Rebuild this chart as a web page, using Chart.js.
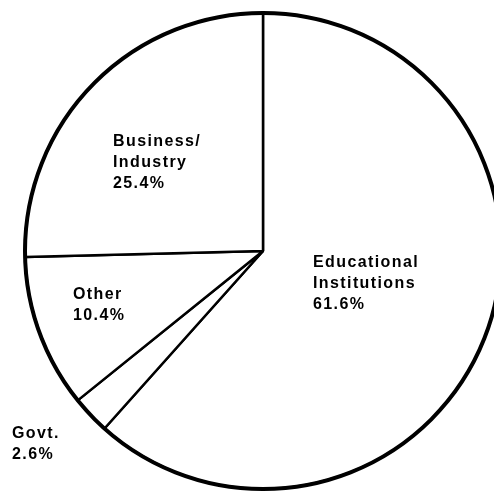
<!DOCTYPE html>
<html>
<head>
<meta charset="utf-8">
<script src="https://cdn.jsdelivr.net/npm/chart.js@4/dist/chart.umd.min.js"></script>
<style>
  html, body { margin: 0; padding: 0; background: #fff; overflow: hidden; }
  #wrap { position: relative; width: 526px; height: 492px; }
</style>
</head>
<body>
<div id="wrap"><canvas id="pie" width="526" height="492"></canvas></div>
<script>
// Sectors, clockwise from 12 o'clock
const categories = ['Educational Institutions', 'Govt.', 'Other', 'Business/Industry'];
const labelLines = [['Educational', 'Institutions'], ['Govt.'], ['Other'], ['Business/', 'Industry']];
const shares = [61.6, 2.6, 10.4, 25.4];

// Where each sector's caption sits, as an offset (px) from the pie centre
const captionOffsets = [
  { dx: 50, dy: 16 },
  { dx: -251, dy: 187 },
  { dx: -190, dy: 48 },
  { dx: -150, dy: -105 }
];

const outlineAndCaptions = {
  id: 'outlineAndCaptions',
  afterDatasetsDraw(chart, args, opts) {
    const ctx = chart.ctx;
    const meta = chart.getDatasetMeta(0);
    const arc0 = meta.data[0];
    const cx = arc0.x, cy = arc0.y, r = arc0.outerRadius;

    // heavier rim around the whole pie
    ctx.save();
    ctx.beginPath();
    ctx.arc(cx, cy, r, 0, Math.PI * 2);
    ctx.lineWidth = opts.rimWidth;
    ctx.strokeStyle = '#000';
    ctx.stroke();
    ctx.restore();

    // sector captions: name lines followed by the share
    ctx.save();
    ctx.fillStyle = '#000';
    ctx.font = opts.font;
    ctx.letterSpacing = opts.letterSpacing;
    ctx.textAlign = 'left';
    ctx.textBaseline = 'alphabetic';
    chart.data.datasets[0].data.forEach((v, i) => {
      const off = captionOffsets[i];
      const lines = labelLines[i].concat([v.toFixed(1) + '%']);
      lines.forEach((t, k) => {
        ctx.fillText(t, cx + off.dx, cy + off.dy + k * opts.lineHeight);
      });
    });
    ctx.restore();
  }
};

new Chart(document.getElementById('pie'), {
  type: 'pie',
  data: {
    labels: categories,
    datasets: [{
      data: shares,
      backgroundColor: '#ffffff',
      borderColor: '#000000',
      borderWidth: 2.5
    }]
  },
  options: {
    responsive: false,
    animation: false,
    radius: 238,
    layout: { padding: { top: 10, bottom: 0, left: 0, right: 0 } },
    plugins: {
      legend: { display: false },
      tooltip: { enabled: false },
      outlineAndCaptions: {
        rimWidth: 4,
        font: 'bold 16px "Liberation Sans", Arial, sans-serif',
        letterSpacing: '1.4px',
        lineHeight: 21
      }
    }
  },
  plugins: [outlineAndCaptions]
});
</script>
</body>
</html>
